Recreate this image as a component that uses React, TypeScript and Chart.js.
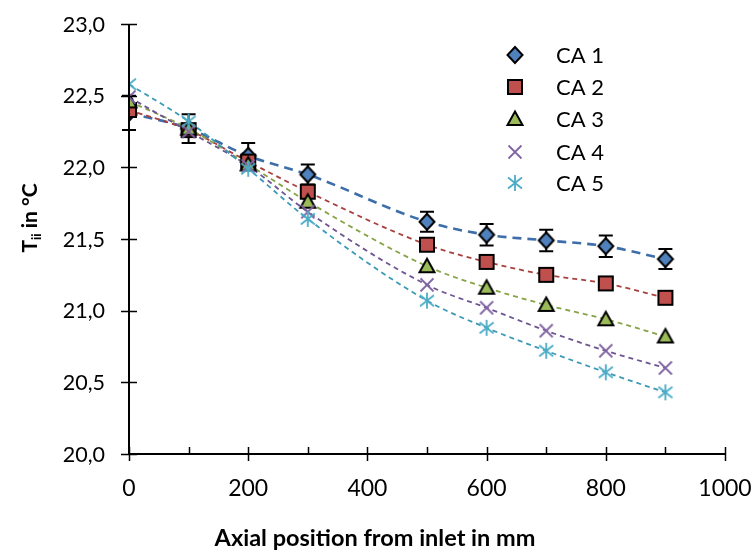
import React, { useEffect, useRef } from 'react';
import { Chart, registerables } from 'chart.js';
Chart.register(...registerables);

const positions = [0, 100, 200, 300, 500, 600, 700, 800, 900];
const ca1 = [22.38, 22.27, 22.08, 21.95, 21.62, 21.53, 21.49, 21.45, 21.36];
const ca1Err = [0.12, 0.1, 0.09, 0.07, 0.07, 0.075, 0.075, 0.075, 0.07];
const ca2 = [22.4, 22.26, 22.04, 21.83, 21.46, 21.34, 21.25, 21.19, 21.09];
const ca3 = [22.46, 22.27, 22.02, 21.76, 21.31, 21.16, 21.04, 20.94, 20.82];
const ca4 = [22.49, 22.25, 22.01, 21.69, 21.18, 21.02, 20.86, 20.72, 20.6];
const ca5 = [22.58, 22.32, 21.99, 21.64, 21.07, 20.88, 20.72, 20.57, 20.43];
const seriesNames = ['CA 1', 'CA 2', 'CA 3', 'CA 4', 'CA 5'];
const seriesValues = [ca1, ca2, ca3, ca4, ca5];
const xMajorTicks = [0, 200, 400, 600, 800, 1000];
const xMinorTicks = [100, 300, 500, 700, 900];
const yMajorTicks = [20, 20.5, 21, 21.5, 22, 22.5, 23];
const xTitle = 'Axial position from inlet in mm';

const fillColors = ['#4F81BD', '#C0504D', '#9BBB59', '#8064A2', '#4BACC6'];
const lineColors = ['#3D6EAA', '#A8403D', '#86A347', '#6E5592', '#3B9AB6'];
const markerKinds = ['diamond', 'square', 'triangle', 'cross', 'asterisk'];
const FONT = 'Lato, "Open Sans", sans-serif';

function makeMarker(kind: string, fill: string): HTMLCanvasElement {
  const c = document.createElement('canvas');
  c.width = 22;
  c.height = 22;
  const g = c.getContext('2d')!;
  const cx = 11, cy = 11;
  g.lineJoin = 'miter';
  if (kind === 'diamond') {
    g.beginPath();
    g.moveTo(cx, cy - 8); g.lineTo(cx + 7.5, cy); g.lineTo(cx, cy + 8); g.lineTo(cx - 7.5, cy); g.closePath();
    g.fillStyle = fill; g.fill(); g.lineWidth = 2; g.strokeStyle = '#000'; g.stroke();
  } else if (kind === 'square') {
    g.beginPath(); g.rect(cx - 7, cy - 7, 14, 14);
    g.fillStyle = fill; g.fill(); g.lineWidth = 2; g.strokeStyle = '#000'; g.stroke();
  } else if (kind === 'triangle') {
    g.beginPath();
    g.moveTo(cx, cy - 7.5); g.lineTo(cx + 7.5, cy + 6); g.lineTo(cx - 7.5, cy + 6); g.closePath();
    g.fillStyle = fill; g.fill(); g.lineWidth = 2; g.strokeStyle = '#000'; g.stroke();
  } else if (kind === 'cross') {
    g.beginPath();
    g.moveTo(cx - 6.5, cy - 6.5); g.lineTo(cx + 6.5, cy + 6.5);
    g.moveTo(cx + 6.5, cy - 6.5); g.lineTo(cx - 6.5, cy + 6.5);
    g.lineWidth = 1.8; g.strokeStyle = fill; g.stroke();
  } else {
    g.beginPath();
    g.moveTo(cx, cy - 8); g.lineTo(cx, cy + 8);
    g.moveTo(cx - 7, cy - 5.5); g.lineTo(cx + 7, cy + 5.5);
    g.moveTo(cx + 7, cy - 5.5); g.lineTo(cx - 7, cy + 5.5);
    g.lineWidth = 1.8; g.strokeStyle = fill; g.stroke();
  }
  return c;
}

export default function App() {
  const ref = useRef<HTMLCanvasElement | null>(null);
  useEffect(() => {
    const markers = markerKinds.map((k, i) => makeMarker(k, fillColors[i]));
    const datasets: any[] = [];
    seriesValues.forEach((vals, i) => {
      datasets.push({
        label: seriesNames[i] + ' trend',
        data: positions.map((x, j) => ({ x, y: vals[j] })),
        showLine: true,
        pointRadius: 0,
        borderColor: lineColors[i],
        borderWidth: i === 0 ? 2.6 : 1.8,
        borderDash: i === 0 ? [9, 6] : [5, 4],
        cubicInterpolationMode: 'monotone',
        tension: 0.4,
        order: 20 - i,
      });
    });
    seriesValues.forEach((vals, i) => {
      datasets.push({
        label: seriesNames[i],
        data: positions.map((x, j) => ({ x, y: vals[j] })),
        showLine: false,
        pointStyle: markers[i],
        pointRadius: 8,
        order: 5 - i,
      });
    });

    const customDraw = {
      id: 'customDraw',
      beforeDatasetsDraw(chart: any) {
        const { ctx, scales } = chart;
        const xs = scales.x, ys = scales.y;
        ctx.save();
        ctx.strokeStyle = '#000';
        ctx.lineWidth = 2;
        positions.forEach((p, j) => {
          const px = xs.getPixelForValue(p);
          const top = ys.getPixelForValue(ca1[j] + ca1Err[j]);
          const bot = ys.getPixelForValue(ca1[j] - ca1Err[j]);
          ctx.beginPath();
          ctx.moveTo(px, top); ctx.lineTo(px, bot);
          ctx.moveTo(px - 7, top); ctx.lineTo(px + 7, top);
          ctx.moveTo(px - 7, bot); ctx.lineTo(px + 7, bot);
          ctx.stroke();
        });
        ctx.restore();
      },
      afterDraw(chart: any) {
        const { ctx, scales, chartArea } = chart;
        const xs = scales.x, ys = scales.y;
        ctx.save();
        ctx.strokeStyle = '#000';
        ctx.lineWidth = 2;
        ctx.beginPath();
        ctx.moveTo(chartArea.left, chartArea.top);
        ctx.lineTo(chartArea.left, chartArea.bottom);
        ctx.lineTo(chartArea.right, chartArea.bottom);
        ctx.stroke();
        ctx.lineWidth = 1.5;
        ctx.beginPath();
        xMajorTicks.forEach((t) => {
          const px = Math.round(xs.getPixelForValue(t)) + 0.5;
          ctx.moveTo(px, chartArea.bottom - 7); ctx.lineTo(px, chartArea.bottom + 7);
        });
        xMinorTicks.forEach((t) => {
          const px = Math.round(xs.getPixelForValue(t)) + 0.5;
          ctx.moveTo(px, chartArea.bottom - 7); ctx.lineTo(px, chartArea.bottom);
        });
        yMajorTicks.forEach((t) => {
          const py = Math.round(ys.getPixelForValue(t)) + 0.5;
          ctx.moveTo(chartArea.left - 8, py); ctx.lineTo(chartArea.left + 8, py);
        });
        ctx.stroke();

        ctx.fillStyle = '#000';
        // y tick labels
        ctx.font = '21.5px ' + FONT;
        ctx.textAlign = 'right';
        ctx.textBaseline = 'alphabetic';
        yMajorTicks.forEach((t) => {
          const py = ys.getPixelForValue(t);
          ctx.fillText(t.toFixed(1).replace('.', ','), 105, py + 7.5);
        });
        // x tick labels
        ctx.font = '23px ' + FONT;
        ctx.textAlign = 'center';
        xMajorTicks.forEach((t) => {
          const px = xs.getPixelForValue(t);
          ctx.fillText(String(t), px, 496);
        });

        // legend
        const rowY = [55, 87, 119, 152, 183];
        ctx.font = '22px ' + FONT;
        ctx.textBaseline = 'alphabetic';
        ctx.textAlign = 'left';
        seriesNames.forEach((n, i) => {
          ctx.drawImage(markers[i], 515 - 11, rowY[i] - 11);
          ctx.fillText(n, 556, rowY[i] + 8);
        });

        // x title
        ctx.font = 'bold 23.5px ' + FONT;
        ctx.textAlign = 'center';
        ctx.fillText(xTitle, 375, 546);

        // y title with subscript
        ctx.translate(29, 218);
        ctx.rotate(-Math.PI / 2);
        ctx.textAlign = 'left';
        ctx.textBaseline = 'alphabetic';
        const f1 = 'bold 21px ' + FONT;
        const f2 = 'bold 13px ' + FONT;
        ctx.font = f1;
        const wT = ctx.measureText('T').width;
        const wRest = ctx.measureText(' in °C').width;
        ctx.font = f2;
        const wSub = ctx.measureText('ii').width;
        const total = wT + wSub + wRest;
        let x0 = -total / 2;
        ctx.font = f1;
        ctx.fillText('T', x0, 7.5);
        x0 += wT;
        ctx.font = f2;
        ctx.fillText('ii', x0, 12);
        x0 += wSub;
        ctx.font = f1;
        ctx.fillText(' in °C', x0, 7.5);
        ctx.restore();
      },
    };

    const chart = new Chart(ref.current!, {
      type: 'scatter',
      data: { datasets },
      plugins: [customDraw],
      options: {
        animation: false,
        responsive: false,
        layout: { padding: { top: 24, right: 28, left: 0, bottom: 0 } },
        plugins: { legend: { display: false }, tooltip: { enabled: false } },
        scales: {
          x: {
            type: 'linear',
            min: 0,
            max: 1000,
            afterBuildTicks: (s: any) => { s.ticks = xMajorTicks.map((v) => ({ value: v })); },
            ticks: { display: false },
            grid: { display: false, drawTicks: false },
            border: { display: false },
            afterFit: (s: any) => { s.height = 100; },
          },
          y: {
            type: 'linear',
            min: 20,
            max: 23,
            afterBuildTicks: (s: any) => { s.ticks = yMajorTicks.map((v) => ({ value: v })); },
            ticks: { display: false },
            grid: { display: false, drawTicks: false },
            border: { display: false },
            afterFit: (s: any) => { s.width = 129; },
          },
        },
      } as any,
    });
    return () => chart.destroy();
  }, []);
  return (
    <div style={{ position: 'absolute', left: 0, top: 0, width: 753, height: 554, background: '#fff' }}>
      <canvas ref={ref} width={753} height={554} style={{ width: 753, height: 554, display: 'block' }} />
    </div>
  );
}
